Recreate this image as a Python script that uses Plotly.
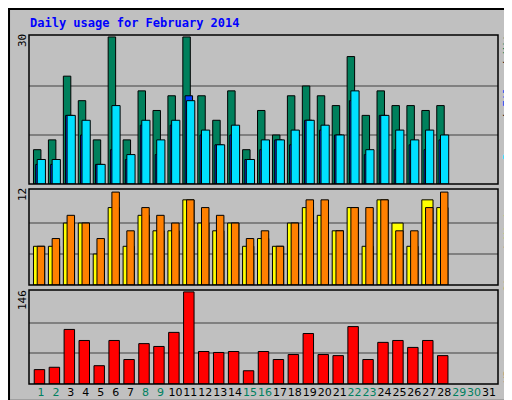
import plotly.graph_objects as go

days = list(range(1, 29))
hits = [7,9,22,17,9,30,9,19,15,18,30,18,13,19,7,15,10,18,20,18,16,26,14,19,16,16,15,16]
files = [5,5,14,13,4,16,6,13,9,13,17,11,8,12,5,9,9,11,13,12,10,19,7,14,11,9,11,10]
pages = [4,4,14,10,4,7,5,12,6,12,18,10,8,10,5,7,9,8,13,11,10,17,6,14,7,8,7,9]
sites = [5,5,8,8,4,10,5,9,7,7,11,8,7,8,5,6,5,8,10,9,7,10,5,11,8,5,11,10]
visits = [5,6,9,8,6,12,7,10,9,8,11,10,9,8,6,7,5,8,11,11,7,10,10,11,7,7,10,12]
kbytes = [22.8,26.5,86.5,69,29,69,38.8,64,59.5,81.8,146,51.5,50,51.5,21,51.5,38.8,46.7,80,46.7,45,91,38.8,66,69,58,69,45]
weekend = {1,2,8,9,15,16,22,23,29,30}
tick_days = list(range(1, 32))
title = "Daily usage for February 2014"

H = 400
def dom(a, b):
    return [1 - b / H, 1 - a / H]

fig = go.Figure()
ln = dict(color="black", width=1)
def bar(y, color, off, w, ax):
    fig.add_trace(go.Bar(x=days, y=y, offset=off, width=w, marker=dict(color=color, line=ln),
                         xaxis="x", yaxis=ax, showlegend=False, hoverinfo="skip"))

bar(hits, "#00805C", -0.5, 0.5, "y")
bar(pages, "#0040FF", -0.35, 0.5, "y")
bar(files, "#00E0FF", -0.25, 0.55, "y")
bar(sites, "#FFFF00", -0.5, 0.75, "y2")
bar(visits, "#FF8000", -0.25, 0.5, "y2")
bar(kbytes, "#FF0000", -0.45, 0.7, "y3")

gc = "#808080"
fig.update_layout(
    width=512, height=400, margin=dict(l=0, r=0, t=0, b=0, autoexpand=False),
    paper_bgcolor="#C0C0C0", plot_bgcolor="#C0C0C0", barmode="overlay",
    font=dict(family="DejaVu Sans Mono", size=11, color="black"),
    xaxis=dict(domain=[21/512, 490/512], range=[0.2, 31.6], showgrid=False, zeroline=False,
               tickmode="array", tickvals=tick_days, tickangle=0, automargin=False,
               ticktext=[f"<span style='color:{'#008060' if d in weekend else 'black'}'>{d}</span>" for d in tick_days],
               ticks="", anchor="y3", tickfont=dict(size=11, family="DejaVu Sans")),
    yaxis=dict(domain=dom(27, 176), range=[0, 30.4], tickvals=[10, 20], showticklabels=False,
               gridcolor=gc, gridwidth=2, zeroline=False, automargin=False),
    yaxis2=dict(domain=dom(181, 277), range=[0, 12.4], tickvals=[4, 8], showticklabels=False,
                gridcolor=gc, gridwidth=2, zeroline=False, automargin=False),
    yaxis3=dict(domain=dom(282, 376), range=[0, 149], tickvals=[146/3, 292/3], showticklabels=False,
                gridcolor=gc, gridwidth=2, zeroline=False, automargin=False),
)

shapes = [dict(type="rect", xref="paper", yref="paper", x0=0.002, x1=0.998, y0=0.0025, y1=0.9975,
               line=dict(color="black", width=2))]
for a, b in [(27, 176), (181, 277), (282, 376)]:
    d = dom(a, b)
    shapes.append(dict(type="rect", xref="paper", yref="paper", x0=21/512, x1=490/512, y0=d[0], y1=d[1],
                       line=dict(color="black", width=1.5)))
shapes.append(dict(type="line", xref="paper", yref="paper", x0=0.004, x1=0.996, y0=1-393/H, y1=1-393/H,
                   line=dict(color="#808080", width=3)))
fig.update_layout(shapes=shapes)

ann = [
    dict(text=f"<b>{title}</b>", x=20/512, y=1-15/H, xanchor="left",
         font=dict(color="#0000FF", size=12)),
    dict(text="30", x=14/512, y=1-33/H, textangle=-90),
    dict(text="12", x=14/512, y=1-187/H, textangle=-90),
    dict(text="146", x=14/512, y=1-292/H, textangle=-90),
    dict(text="<span style='color:#00E0FF'>Pages</span> / <span style='color:#0040FF'>Files</span> / <span style='color:#00805C'>Hits</span>",
         x=500/512, y=1-86/H, textangle=-90),
    dict(text="<span style='color:#FF8000'>Sites</span> / <span style='color:#FFFF00'>Visits</span>",
         x=500/512, y=1-238/H, textangle=-90),
    dict(text="<span style='color:#FF0000'>KBytes</span>",
         x=500/512, y=1-355/H, textangle=-90),
]
for a in ann:
    a.update(xref="paper", yref="paper", showarrow=False, yanchor="middle")
    a.setdefault("xanchor", "center")
fig.update_layout(annotations=ann)
fig.write_html("out.html")
